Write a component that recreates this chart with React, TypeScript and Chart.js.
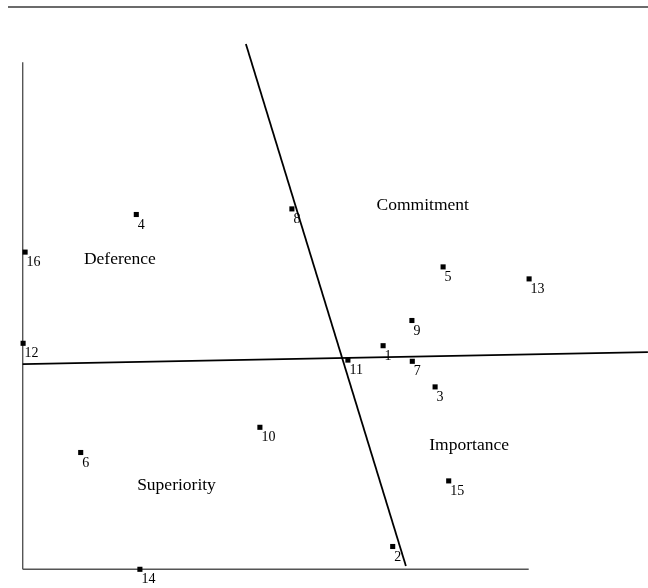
import React, { useEffect, useRef } from "react";
import { Chart, registerables } from "chart.js";

Chart.register(...registerables);

// Point identifiers and their MDS coordinates (arbitrary units, origin at the axes corner)
const pointIds = ["1", "2", "3", "4", "5", "6", "7", "8", "9", "10", "11", "12", "13", "14", "15", "16"];
const xValues = [9.01, 9.25, 10.31, 2.84, 10.51, 1.45, 9.74, 6.73, 9.73, 5.93, 8.13, 0.01, 12.66, 2.93, 10.65, 0.06];
const yValues = [5.59, 0.57, 4.56, 8.87, 7.56, 2.92, 5.2, 9.01, 6.22, 3.55, 5.23, 5.65, 7.26, 0.0, 2.21, 7.93];

// Dimension lines
const horizLineX = [0, 15.63];
const horizLineY = [5.13, 5.43];
const steepLineX = [5.58, 9.58];
const steepLineY = [13.13, 0.08];

// Axes extents
const axisXMax = 12.65;
const axisYMax = 12.675;

// Region labels
const regionNames = ["Commitment", "Deference", "Importance", "Superiority"];
const regionX = [10.0, 2.43, 11.16, 3.845];
const regionY = [9.11, 7.76, 3.11, 2.11];

const SERIF = '"Liberation Serif", "Times New Roman", serif';

const labelPlugin = {
  id: "labelPlugin",
  afterDatasetsDraw(chart: any) {
    const { ctx, scales } = chart;
    const xs = scales.x;
    const ys = scales.y;
    ctx.save();
    ctx.fillStyle = "#000";
    ctx.textBaseline = "middle";
    ctx.textAlign = "left";
    ctx.font = `14px ${SERIF}`;
    pointIds.forEach((id, i) => {
      const px = xs.getPixelForValue(xValues[i]);
      const py = ys.getPixelForValue(yValues[i]);
      ctx.fillText(id, px + 1.5, py + 10.5);
    });
    ctx.textAlign = "center";
    ctx.font = `17.5px ${SERIF}`;
    regionNames.forEach((name, i) => {
      ctx.fillText(name, xs.getPixelForValue(regionX[i]), ys.getPixelForValue(regionY[i]) + 1);
    });
    ctx.restore();
  },
};

export default function App() {
  const canvasRef = useRef<HTMLCanvasElement | null>(null);

  useEffect(() => {
    if (!canvasRef.current) return;
    const chart = new Chart(canvasRef.current, {
      type: "scatter",
      data: {
        datasets: [
          {
            label: "points",
            data: pointIds.map((_, i) => ({ x: xValues[i], y: yValues[i] })),
            pointStyle: "rect",
            pointRadius: 3.6,
            pointBorderWidth: 0,
            backgroundColor: "#000",
            borderColor: "#000",
            showLine: false,
            clip: false,
          },
          {
            label: "dim1",
            data: horizLineX.map((x, i) => ({ x, y: horizLineY[i] })),
            showLine: true,
            borderColor: "#000",
            borderWidth: 1.8,
            pointRadius: 0,
          },
          {
            label: "dim2",
            data: steepLineX.map((x, i) => ({ x, y: steepLineY[i] })),
            showLine: true,
            borderColor: "#000",
            borderWidth: 1.8,
            pointRadius: 0,
          },
          {
            label: "yaxis",
            data: [
              { x: 0, y: 0 },
              { x: 0, y: axisYMax },
            ],
            showLine: true,
            borderColor: "#555",
            borderWidth: 1.4,
            pointRadius: 0,
          },
          {
            label: "xaxis",
            data: [
              { x: 0, y: 0 },
              { x: axisXMax, y: 0 },
            ],
            showLine: true,
            borderColor: "#555",
            borderWidth: 1.4,
            pointRadius: 0,
          },
        ],
      },
      options: {
        animation: false,
        responsive: true,
        maintainAspectRatio: false,
        layout: { padding: 0, autoPadding: false },
        plugins: {
          legend: { display: false },
          tooltip: { enabled: false },
          title: { display: false },
        },
        scales: {
          x: { type: "linear", display: false, min: -0.5675, max: 15.6325 },
          y: { type: "linear", display: false, min: -0.4675, max: 14.2325 },
        },
      },
      plugins: [labelPlugin],
    });
    return () => chart.destroy();
  }, []);

  return (
    <div style={{ position: "absolute", left: 0, top: 0, width: 648, height: 588, background: "#fff" }}>
      <div style={{ position: "absolute", left: 8, right: 0, top: 6, height: 2, background: "#6b6b6b" }} />
      <canvas ref={canvasRef} style={{ position: "absolute", left: 0, top: 0 }} />
    </div>
  );
}
